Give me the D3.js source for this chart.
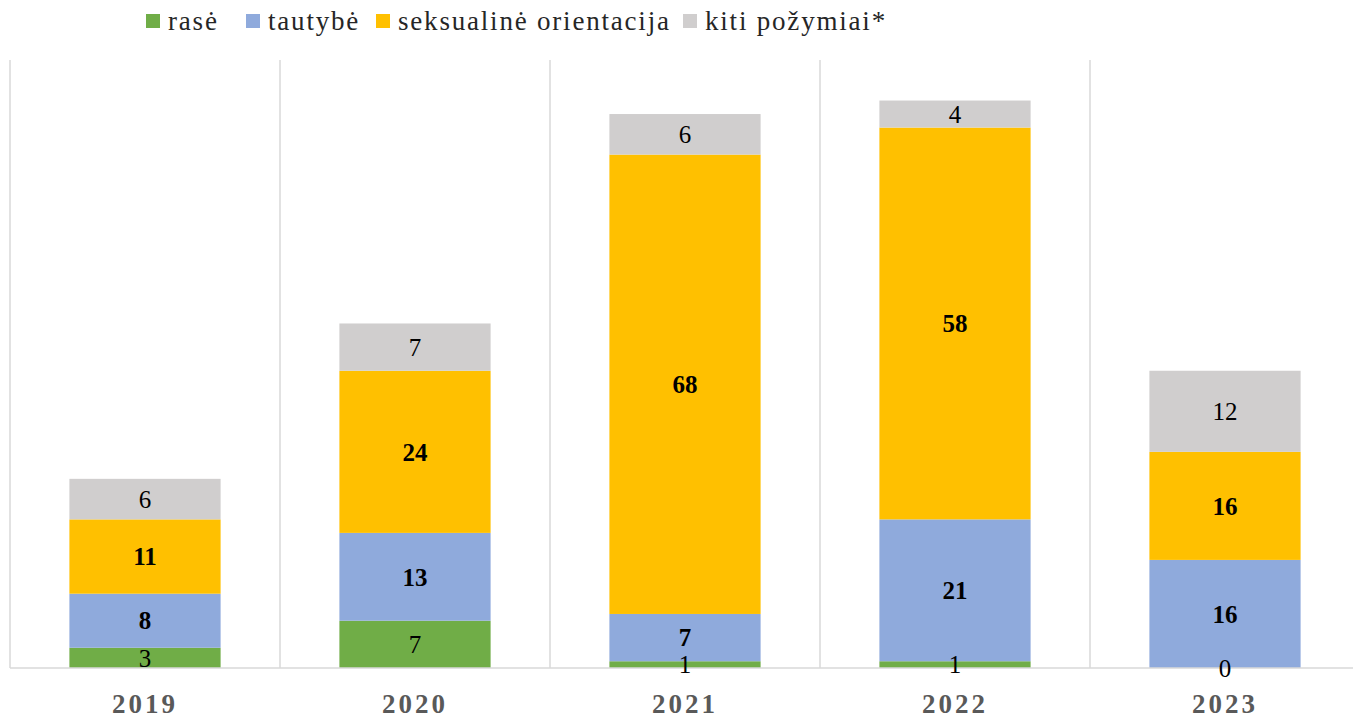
<!DOCTYPE html>
<html>
<head>
<meta charset="utf-8">
<script src="https://cdn.jsdelivr.net/npm/d3@7"></script>
<style>
  body { margin: 0; background: #fff; }
  svg { display: block; font-family: "Liberation Serif", "DejaVu Serif", serif; }
</style>
</head>
<body>
<svg id="chart" width="1353" height="719"></svg>
<script>
const years = ['2019', '2020', '2021', '2022', '2023'];
const seriesNames = ['rasė', 'tautybė', 'seksualinė orientacija', 'kiti požymiai*'];
const rase = [3, 7, 1, 1, 0];
const tautybe = [8, 13, 7, 21, 16];
const seksualine = [11, 24, 68, 58, 16];
const kiti = [6, 7, 6, 4, 12];
const colors = ['#70AD47', '#8FAADC', '#FFC000', '#D0CECE'];
const boldLabels = [false, true, true, false];

const serif = '"Liberation Serif", "DejaVu Serif", serif';
const width = 1353, height = 719;
const margin = {left: 10, right: -7, top: 60, bottom: 51};

const svg = d3.select('#chart');

const table = years.map((y, i) => ({
  year: y, s0: rase[i], s1: tautybe[i], s2: seksualine[i], s3: kiti[i]
}));
const keys = ['s0', 's1', 's2', 's3'];
const stacked = d3.stack().keys(keys)(table);

const x = d3.scaleBand()
  .domain(years)
  .range([margin.left, width - margin.right])
  .paddingInner(0)
  .paddingOuter(0);

const y = d3.scaleLinear()
  .domain([0, 90])
  .range([height - margin.bottom, margin.top]);

const barW = x.bandwidth() * 0.56;

// vertical gridlines between categories
svg.append('g')
  .selectAll('line')
  .data(years)
  .join('line')
  .attr('x1', d => x(d))
  .attr('x2', d => x(d))
  .attr('y1', y(90))
  .attr('y2', y(0))
  .attr('stroke', '#D9D9D9')
  .attr('stroke-width', 1.5);

// bars
const layers = svg.append('g')
  .selectAll('g')
  .data(stacked)
  .join('g')
  .attr('fill', (d, i) => colors[i]);

layers.selectAll('rect')
  .data(d => d)
  .join('rect')
  .attr('x', d => x(d.data.year) + (x.bandwidth() - barW) / 2)
  .attr('width', barW)
  .attr('y', d => y(d[1]))
  .attr('height', d => y(d[0]) - y(d[1]));

// baseline
svg.append('line')
  .attr('x1', margin.left)
  .attr('x2', width)
  .attr('y1', y(0))
  .attr('y2', y(0))
  .attr('stroke', '#D9D9D9')
  .attr('stroke-width', 1.5);

// value labels
stacked.forEach((layer, li) => {
  svg.append('g')
    .selectAll('text')
    .data(layer)
    .join('text')
    .attr('x', d => x(d.data.year) + x.bandwidth() / 2)
    .attr('y', d => (y(d[0]) + y(d[1])) / 2)
    .attr('dy', '0.35em')
    .attr('text-anchor', 'middle')
    .attr('font-family', serif)
    .attr('font-size', 25)
    .attr('font-weight', boldLabels[li] ? 'bold' : 'normal')
    .attr('fill', '#000')
    .text(d => d[1] - d[0]);
});

// x axis labels
const xAxis = d3.axisBottom(x).tickSize(0).tickPadding(0);
const gx = svg.append('g')
  .attr('transform', `translate(0,${y(0)})`)
  .call(xAxis);
gx.select('.domain').remove();
gx.selectAll('text')
  .attr('y', 36)
  .attr('dy', '0.35em')
  .attr('font-family', serif)
  .attr('font-size', 27)
  .attr('font-weight', 'bold')
  .attr('letter-spacing', 3)
  .attr('fill', '#595959');

// legend
const legendX = [146, 246, 376, 683];
const legend = svg.append('g')
  .selectAll('g')
  .data(seriesNames)
  .join('g')
  .attr('transform', (d, i) => `translate(${legendX[i]},21)`);

legend.append('rect')
  .attr('x', 0)
  .attr('y', -7)
  .attr('width', 14)
  .attr('height', 14)
  .attr('fill', (d, i) => colors[i]);

legend.append('text')
  .attr('x', 22)
  .attr('dy', '0.35em')
  .attr('font-family', serif)
  .attr('font-size', 27)
  .attr('letter-spacing', 1.8)
  .attr('fill', '#262626')
  .text(d => d);
</script>
</body>
</html>
